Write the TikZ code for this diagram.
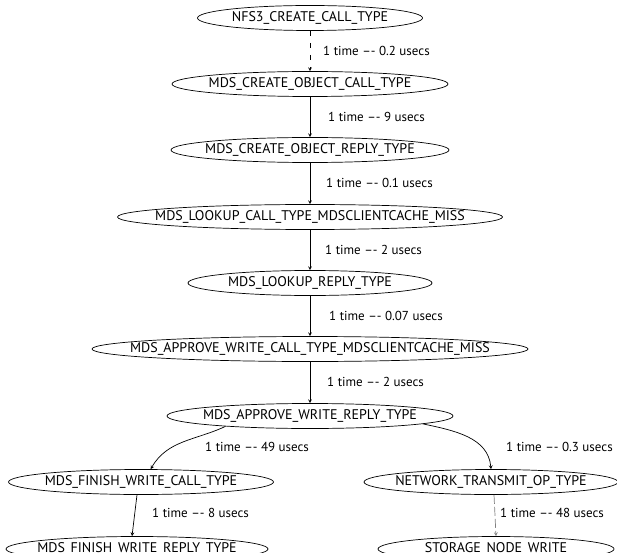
\documentclass[tikz,border=0pt]{standalone}
\usepackage{fontspec}
\setmainfont{PT Sans}
\usetikzlibrary{shapes.geometric}

% ellipse node with a fixed size, the text does not widen it
\tikzset{
  evt/.style={ellipse, draw, line width=0.7pt, inner sep=0pt,
    minimum height=25pt, minimum width=#1,
    font=\fontsize{14}{16}\selectfont,
    execute at begin node={\hbox to 0pt\bgroup\hss},
    execute at end node={\hss\egroup}},
  lbl/.style={anchor=west, inner sep=0pt, font=\fontsize{13}{15}\selectfont},
  edge/.style={->, line width=0.7pt}
}

\begin{document}
\begin{tikzpicture}[x=1pt, y=1pt, >=stealth]

  % Rahmen
  \useasboundingbox (0,0) rectangle (617,552);

  % Mittlere Spalte
  \def\cx{310}
  \node[evt=225] (nfs) at (\cx,534) {NFS3\_CREATE\_CALL\_TYPE};
  \node[evt=276] (cocall) at (\cx,468) {MDS\_CREATE\_OBJECT\_CALL\_TYPE};
  \node[evt=278] (coreply) at (\cx,402) {MDS\_CREATE\_OBJECT\_REPLY\_TYPE};
  \node[evt=385] (lkcall) at (\cx,335) {MDS\_LOOKUP\_CALL\_TYPE\_MDSCLIENTCACHE\_MISS};
  \node[evt=244] (lkreply) at (\cx,269) {MDS\_LOOKUP\_REPLY\_TYPE};
  \node[evt=436] (awcall) at (\cx,203) {MDS\_APPROVE\_WRITE\_CALL\_TYPE\_MDSCLIENTCACHE\_MISS};
  \node[evt=286] (awreply) at (\cx,136) {MDS\_APPROVE\_WRITE\_REPLY\_TYPE};

  % Linker Zweig
  \node[evt=265] (fwcall) at (141,70) {MDS\_FINISH\_WRITE\_CALL\_TYPE};
  \node[evt=262] (fwreply) at (137,3) {MDS\_FINISH\_WRITE\_REPLY\_TYPE};

  % Rechter Zweig
  \node[evt=254] (netop) at (491,70) {NETWORK\_TRANSMIT\_OP\_TYPE};
  \node[evt=236] (store) at (496,3) {STORAGE\_NODE\_WRITE};

  % Kanten
  \draw[edge, dash pattern=on 5pt off 7pt] (nfs) -- (cocall);
  \draw[edge] (cocall) -- (coreply);
  \draw[edge] (coreply) -- (lkcall);
  \draw[edge] (lkcall) -- (lkreply);
  \draw[edge] (lkreply) -- (awcall);
  \draw[edge] (awcall) -- (awreply);
  \draw[edge] (awreply.187) to[out=205, in=60] (fwcall.53);
  \draw[edge] (awreply.-4) to[out=-12, in=95] (netop.north);
  \draw[edge] ([xshift=-4pt]fwcall.south) -- ([xshift=-5pt]fwreply.north);
  \draw[edge, gray, dash pattern=on 9pt off 3pt] ([xshift=3pt]netop.south) -- (store.north);

  % Beschriftungen
  \node[lbl] (t1) at (323,501) {1 time –- 0.2 usecs};
  \node[lbl] (t2) at (328,435) {1 time –- 9 usecs};
  \node[lbl] (t3) at (326,369) {1 time –- 0.1 usecs};
  \node[lbl] (t4) at (325,302) {1 time –- 2 usecs};
  \node[lbl] (t5) at (329,236) {1 time –- 0.07 usecs};
  \node[lbl] (t6) at (327,170) {1 time –- 2 usecs};
  \node[lbl] (t7) at (205,105) {1 time –- 49 usecs};
  \node[lbl] (t8) at (506,105) {1 time –- 0.3 usecs};
  \node[lbl] (t9) at (152,39) {1 time –- 8 usecs};
  \node[lbl] (t10) at (500,39) {1 time –- 48 usecs};

\end{tikzpicture}
\end{document}
